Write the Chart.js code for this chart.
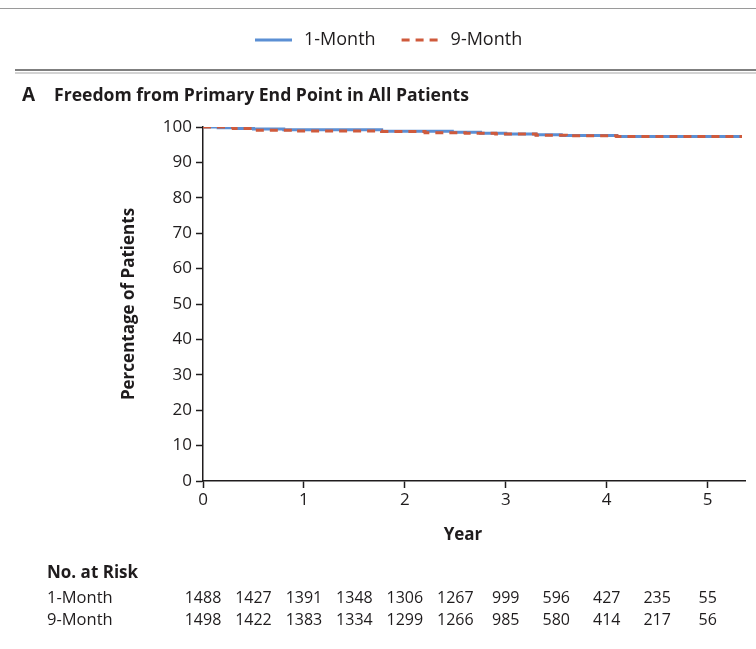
<!DOCTYPE html>
<html>
<head>
<meta charset="utf-8">
<script src="https://cdn.jsdelivr.net/npm/chart.js@4"></script>
<style>
  html, body { margin: 0; padding: 0; background: #fff; }
  #wrap { position: relative; width: 756px; height: 649px; }
</style>
</head>
<body>
<div id="wrap"><canvas id="km" width="756" height="649"></canvas></div>
<script>
// Kaplan-Meier steps (year, percent)
const oneMonthYears = [0, 0.15, 0.35, 0.5, 0.8, 1.77, 2.47, 2.75, 3.0, 3.3, 3.55, 4.1, 5.34];
const oneMonthPct   = [100, 99.8, 99.6, 99.4, 99.2, 98.8, 98.5, 98.2, 98.0, 97.8, 97.6, 97.3, 97.3];
const nineMonthYears = [0, 0.3, 0.5, 0.9, 1.77, 2.2, 2.6, 2.9, 3.3, 3.6, 4.1, 5.34];
const nineMonthPct   = [100, 99.6, 99.1, 98.9, 98.7, 98.4, 98.2, 98.0, 97.7, 97.5, 97.3, 97.3];

// x axis ticks
const yearTicks = [0, 1, 2, 3, 4, 5];

// number at risk table
const riskYears = [0, 0.5, 1, 1.5, 2, 2.5, 3, 3.5, 4, 4.5, 5];
const riskOneMonth  = [1488, 1427, 1391, 1348, 1306, 1267, 999, 596, 427, 235, 55];
const riskNineMonth = [1498, 1422, 1383, 1334, 1299, 1266, 985, 580, 414, 217, 56];

const FONT = "'Open Sans', sans-serif";
const BLUE = "#5b8fd4";
const RED = "#cf5a3c";
const INK = "#1f1c1d";

function toPoints(xs, ys) {
  return xs.map((x, i) => ({ x: x, y: ys[i] }));
}

// header (legend, title), x axis title and the risk table
const extras = {
  id: "extras",
  afterDraw(chart) {
    const ctx = chart.ctx;
    const x = chart.scales.x;
    ctx.save();

    // remains of the figure above
    ctx.strokeStyle = "#9a9a9a";
    ctx.lineWidth = 1.2;
    ctx.beginPath();
    ctx.moveTo(0, 8.5);
    ctx.lineTo(756, 8.5);
    ctx.stroke();

    // legend
    ctx.textBaseline = "middle";
    ctx.font = "18px " + FONT;
    ctx.fillStyle = INK;
    let lx = 255;
    chart.data.datasets.forEach((ds) => {
      ctx.strokeStyle = ds.borderColor;
      ctx.lineWidth = 3;
      ctx.setLineDash(ds.borderDash || []);
      ctx.beginPath();
      ctx.moveTo(lx, 40);
      ctx.lineTo(lx + 37, 40);
      ctx.stroke();
      ctx.setLineDash([]);
      ctx.fillText(ds.label, lx + 49, 40);
      lx += 49 + ctx.measureText(ds.label).width + 26;
    });

    // double rule
    ctx.strokeStyle = "#7f7f7f";
    ctx.lineWidth = 2;
    ctx.beginPath();
    ctx.moveTo(15, 70);
    ctx.lineTo(756, 70);
    ctx.stroke();
    ctx.strokeStyle = "#c4c4c4";
    ctx.lineWidth = 1.5;
    ctx.beginPath();
    ctx.moveTo(15, 73);
    ctx.lineTo(756, 73);
    ctx.stroke();

    // panel title
    ctx.font = "bold 19px " + FONT;
    ctx.fillStyle = INK;
    ctx.fillText("A", 22, 96);
    ctx.font = "bold 17.6px " + FONT;
    ctx.fillText("Freedom from Primary End Point in All Patients", 54, 96);

    // x axis title
    ctx.textAlign = "center";
    ctx.font = "bold 17px " + FONT;
    ctx.fillText("Year", 463, 535);

    // no. at risk
    ctx.textAlign = "left";
    ctx.font = "bold 17px " + FONT;
    ctx.fillText("No. at Risk", 47, 573);
    ctx.font = "16.5px " + FONT;
    ctx.fillText("1-Month", 47, 598);
    ctx.fillText("9-Month", 47, 620);
    ctx.textAlign = "center";
    ctx.font = "16px " + FONT;
    riskYears.forEach((yr, i) => {
      const px = x.getPixelForValue(yr);
      ctx.fillText(String(riskOneMonth[i]), px, 598);
      ctx.fillText(String(riskNineMonth[i]), px, 620);
    });
    ctx.restore();
  }
};

new Chart(document.getElementById("km"), {
  type: "line",
  data: {
    datasets: [
      {
        label: "1-Month",
        data: toPoints(oneMonthYears, oneMonthPct),
        borderColor: BLUE,
        borderWidth: 3,
        stepped: true,
        pointRadius: 0,
        fill: false,
        order: 2
      },
      {
        label: "9-Month",
        data: toPoints(nineMonthYears, nineMonthPct),
        borderColor: RED,
        borderWidth: 3,
        borderDash: [8, 6],
        stepped: true,
        pointRadius: 0,
        fill: false,
        order: 1
      }
    ]
  },
  options: {
    responsive: false,
    animation: false,
    layout: { padding: { left: 115, top: 127, right: 11, bottom: 106 } },
    plugins: {
      legend: { display: false },
      tooltip: { enabled: false }
    },
    scales: {
      x: {
        type: "linear",
        min: 0,
        max: 5.37,
        afterBuildTicks: (s) => { s.ticks = yearTicks.map((v) => ({ value: v })); },
        afterFit: (s) => { s.height = 62; },
        ticks: { autoSkip: false, color: INK, font: { family: FONT, size: 17 }, padding: 2, maxRotation: 0 },
        grid: { drawOnChartArea: false, drawTicks: true, tickLength: 7, tickColor: INK, tickWidth: 1.5 },
        border: { display: true, color: INK, width: 1.5 }
      },
      y: {
        min: 0,
        max: 100,
        afterFit: (s) => { s.width = 88; },
        ticks: { stepSize: 10, color: INK, font: { family: FONT, size: 17 }, padding: 4 },
        grid: { drawOnChartArea: false, drawTicks: true, tickLength: 7, tickColor: INK, tickWidth: 1.5 },
        border: { display: true, color: INK, width: 1.5 },
        title: { display: true, text: "Percentage of Patients", color: INK, font: { family: FONT, size: 17, weight: "bold" }, padding: 4 }
      }
    }
  },
  plugins: [extras]
});
</script>
</body>
</html>
